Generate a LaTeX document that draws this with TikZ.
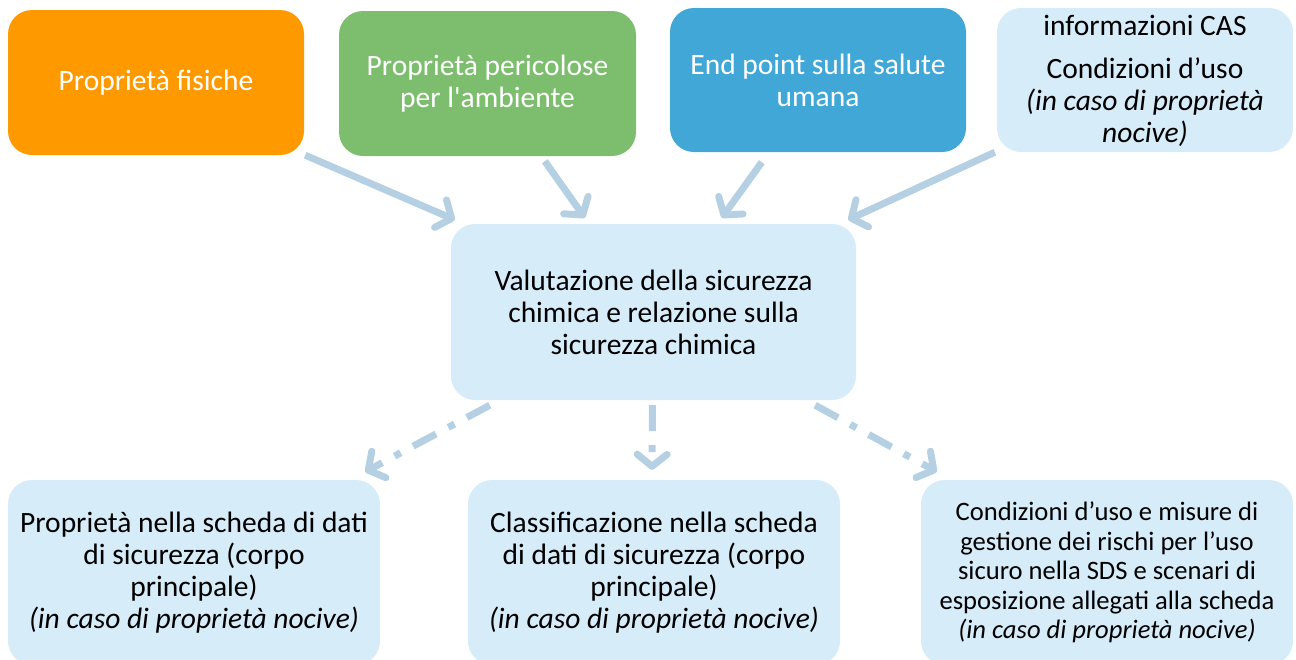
\documentclass[tikz,border=0pt]{standalone}
\usepackage{fontspec}
\setmainfont{Carlito}
\usetikzlibrary{arrows.meta,calc}
\definecolor{cOrange}{RGB}{255,153,0}
\definecolor{cGreen}{RGB}{125,190,110}
\definecolor{cBlue}{RGB}{64,167,214}
\definecolor{cLight}{RGB}{214,236,249}
\definecolor{cArrow}{RGB}{180,208,226}
\newcommand{\straightapos}{\XeTeXglyph\XeTeXcharglyph"0027 }
\tikzset{
  box/.style={rounded corners=24pt, inner sep=0pt, align=center},
  bigtxt/.style={font=\fontsize{29.5}{32}\selectfont},
  smalltxt/.style={font=\fontsize{26.6}{29.5}\selectfont},
  conn/.style={draw=cArrow, line width=7pt, -{Straight Barb[length=12pt,width=30pt,round]}},
  dconn/.style={conn, dash pattern=on 26pt off 14pt on 7pt off 14pt}
}
\begin{document}
\begin{tikzpicture}[x=1pt,y=-1pt]
\useasboundingbox (0,0) rectangle (1296,659);
\clip (0,0) rectangle (1296,659);
% top row
\node[box, fill=cOrange, text=white, bigtxt, minimum width=296pt, minimum height=145pt] (orange) at (156,82.5) {Proprietà fisiche};
\node[box, fill=cGreen, text=white, bigtxt, minimum width=297pt, minimum height=145pt] (green) at (487.5,83.5) {Proprietà pericolose\\per l\straightapos ambiente};
\node[box, fill=cBlue, text=white, bigtxt, minimum width=296pt, minimum height=144pt] (blue) at (818,80) {End point sulla salute\\umana};
\node[box, fill=cLight, minimum width=296pt, minimum height=144pt] (light) at (1145,80) {};
\node[bigtxt, align=center, inner sep=0pt] (lighttxt1) at (1145,25) {informazioni CAS};
\node[bigtxt, align=center, inner sep=0pt] (lighttxt2) at (1145,102) {Condizioni d’uso\\\textit{(in caso di proprietà}\\\textit{nocive)}};
% centre
\node[box, fill=cLight, bigtxt, minimum width=405pt, minimum height=176pt] (centre) at (653.5,312) {Valutazione della sicurezza\\chimica e relazione sulla\\sicurezza chimica};
% bottom row
\node[box, fill=cLight, bigtxt, minimum width=372pt, minimum height=185pt] (bl) at (194,572.5) {Proprietà nella scheda di dati\\di sicurezza (corpo\\principale)\\\textit{(in caso di proprietà nocive)}};
\node[box, fill=cLight, bigtxt, minimum width=372pt, minimum height=185pt] (bm) at (654,572.5) {Classificazione nella scheda\\di dati di sicurezza (corpo\\principale)\\\textit{(in caso di proprietà nocive)}};
\node[box, fill=cLight, smalltxt, minimum width=372pt, minimum height=185pt] (br) at (1107,572.5) {Condizioni d’uso e misure di\\gestione dei rischi per l’uso\\sicuro nella SDS e scenari di\\esposizione allegati alla scheda\\\textit{(in caso di proprietà nocive)}};
% arrows in
\draw[conn] ($(orange.south east)+(1,0)$) -- ($(centre.north west)+(4,-4)$);
\draw[conn] ($(green.south west)+(206,5)$) -- ($(centre.north west)+(134,-6)$);
\draw[conn] ($(blue.south west)+(92,10)$) -- ($(centre.north west)+(271,-6)$);
\draw[conn] ($(light.south west)+(-2,0)$) -- ($(centre.north east)+(-8,-4)$);
% arrows out
\draw[dconn] ($(centre.south west)+(39,5)$) -- ($(bl.north east)+(-15,-8)$);
\draw[dconn] ($(centre.south)+(-1,5)$) -- ($(bm.north)+(-2,-10)$);
\draw[dconn] ($(centre.south east)+(-41,5)$) -- ($(br.north west)+(16,-8)$);
\end{tikzpicture}
\end{document}
